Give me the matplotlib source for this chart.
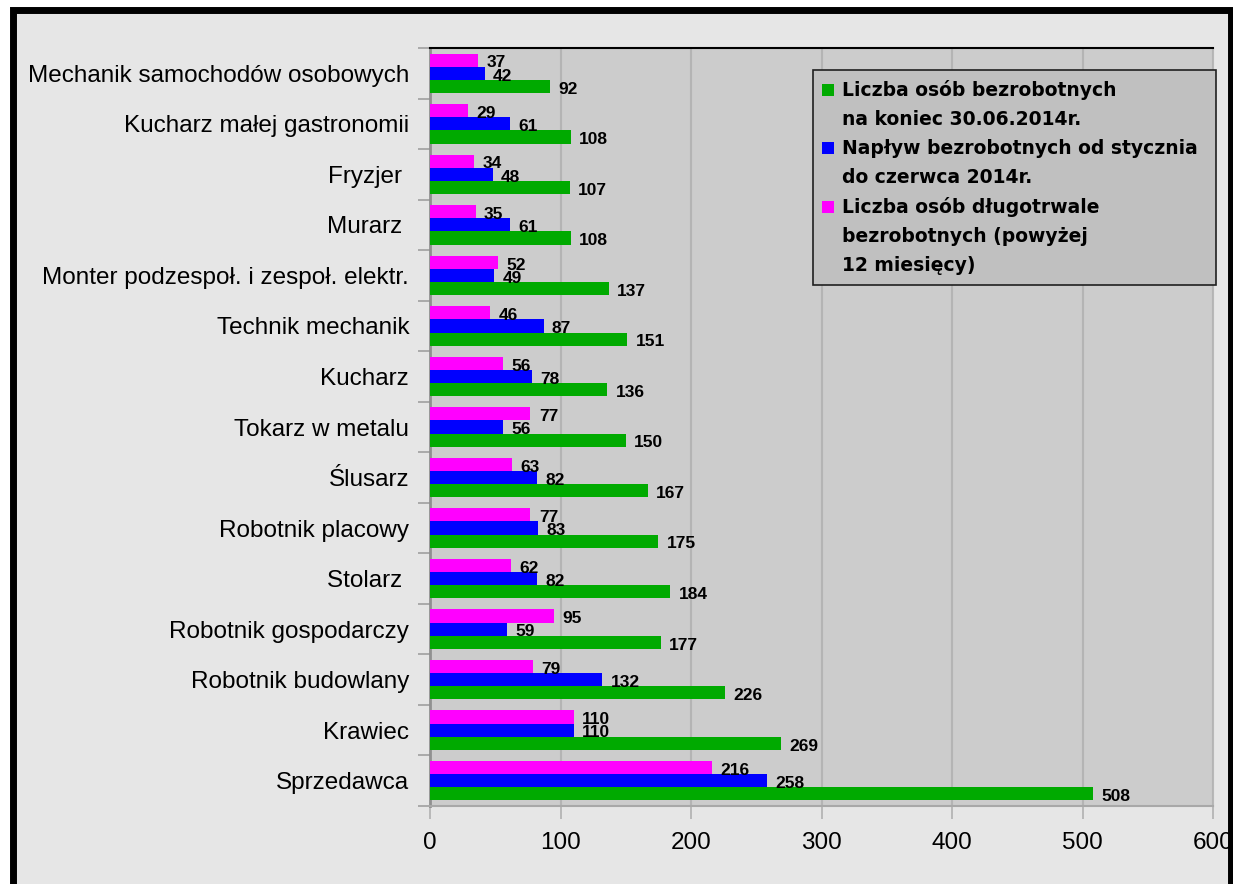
import matplotlib.pyplot as plt
import numpy as np
from matplotlib.patches import Rectangle

plt.rcParams['font.family'] = ['Liberation Sans', 'DejaVu Sans']

# --- data (top to bottom as in the chart) ---
categories = ['Mechanik samochodów osobowych', 'Kucharz małej gastronomii', 'Fryzjer ',
              'Murarz ', 'Monter podzespoł. i zespoł. elektr.', 'Technik mechanik',
              'Kucharz', 'Tokarz w metalu', 'Ślusarz', 'Robotnik placowy', 'Stolarz ',
              'Robotnik gospodarczy', 'Robotnik budowlany', 'Krawiec', 'Sprzedawca']
unemployed_end = [92, 108, 107, 108, 137, 151, 136, 150, 167, 175, 184, 177, 226, 269, 508]
inflow = [42, 61, 48, 61, 49, 87, 78, 56, 82, 83, 82, 59, 132, 110, 258]
long_term = [37, 29, 34, 35, 52, 46, 56, 77, 63, 77, 62, 95, 79, 110, 216]

legend_lines = [
    ['Liczba osób bezrobotnych', 'na koniec 30.06.2014r.'],
    ['Napływ bezrobotnych od stycznia', 'do czerwca 2014r.'],
    ['Liczba osób długotrwale', 'bezrobotnych (powyżej', '12 miesięcy)'],
]
colors = ['#00aa00', '#0000ff', '#ff00ff']

W, H = 1233, 884
fig = plt.figure(figsize=(W / 100, H / 100), dpi=100, facecolor='white')

# outer frame
fig.patches.append(Rectangle((13 / W, -0.05), (1231 - 13) / W, 1 - 10 / H + 0.05,
                             transform=fig.transFigure, facecolor='#e6e6e6',
                             edgecolor='black', linewidth=5, zorder=-5))

ax = fig.add_axes([430 / W, 1 - 806 / H, (1213 - 430) / W, (806 - 48) / H])
ax.set_facecolor('#cccccc')

y = np.arange(len(categories))
h = 0.26
b1 = ax.barh(y + h, unemployed_end, height=h, color=colors[0], zorder=3)
b2 = ax.barh(y, inflow, height=h, color=colors[1], zorder=3)
b3 = ax.barh(y - h, long_term, height=h, color=colors[2], zorder=3)
for bars in (b1, b2, b3):
    for rect in bars:
        ax.annotate(f'{int(rect.get_width())}',
                    xy=(rect.get_width(), rect.get_y() + rect.get_height() / 2),
                    xytext=(6, -2), textcoords='offset points',
                    va='center', ha='left', fontsize=12.5, fontweight='bold', zorder=4)

ax.set_xlim(0, 600)
ax.set_ylim(len(categories) - 0.5, -0.5)
ax.set_xticks(np.arange(0, 601, 100))
ax.set_yticks(y)
ax.set_yticklabels(categories)
ax.set_yticks(np.arange(-0.5, len(categories), 1), minor=True)
ax.tick_params(axis='y', which='major', length=0, pad=15, labelsize=17.5)
ax.tick_params(axis='y', which='minor', length=9, color='#a0a0a0', width=1.2)
ax.tick_params(axis='x', length=9, color='#b0b0b0', width=1.2, pad=10, labelsize=17.5)
ax.grid(axis='x', color='#b4b4b4', linewidth=1.5, zorder=1)
ax.set_axisbelow(True)

ax.spines['top'].set_color('black')
ax.spines['top'].set_linewidth(1.5)
ax.spines['left'].set_color('#909090')
ax.spines['left'].set_linewidth(2)
ax.spines['bottom'].set_color('#a8a8a8')
ax.spines['bottom'].set_linewidth(1.5)
ax.spines['right'].set_color('#b8b8b8')

# manual legend (square aligned with first line of each entry)
lx0, ly0, lx1, ly1 = 813, 70, 1216, 285
fig.patches.append(Rectangle((lx0 / W, 1 - ly1 / H), (lx1 - lx0) / W, (ly1 - ly0) / H,
                             transform=fig.transFigure, facecolor='#c0c0c0',
                             edgecolor='#202020', linewidth=1.2, zorder=5))
pitch = 29.2
line_y = 90
for col, lines in zip(colors, legend_lines):
    fig.patches.append(Rectangle((822 / W, 1 - (line_y + 6) / H), 12 / W, 12 / H,
                                 transform=fig.transFigure, facecolor=col,
                                 edgecolor='none', zorder=6))
    for ln in lines:
        fig.text(842 / W, 1 - line_y / H, ln, fontsize=13.5, fontweight='bold',
                 family='DejaVu Sans', va='center', ha='left', zorder=7)
        line_y += pitch

fig.savefig('out.png', dpi=100, facecolor='white')
